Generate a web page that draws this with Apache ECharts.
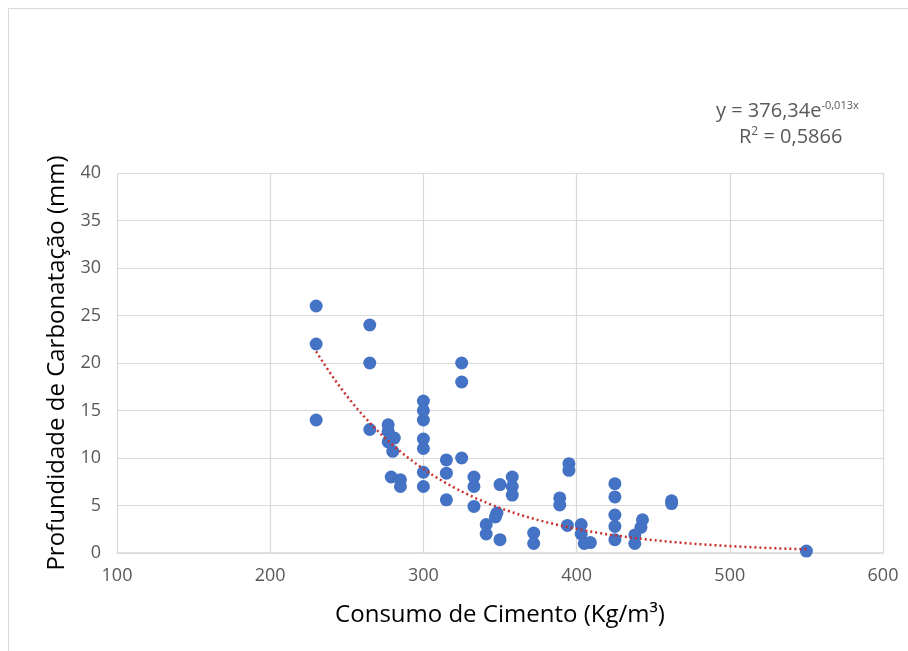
<!DOCTYPE html>
<html>
<head>
<meta charset="utf-8">
<script src="https://cdn.jsdelivr.net/npm/echarts@6/dist/echarts.min.js"></script>
<style>
html,body{margin:0;padding:0;background:#fff;}
#chart{width:908px;height:651px;}
</style>
</head>
<body>
<div id="chart"></div>
<script>
// Consumo de cimento (kg/m3) -- x values
const consumo = [
  230, 230, 230,
  265, 265, 265,
  277, 277, 281, 277, 280,
  279, 285, 285,
  300, 300, 300, 300, 300, 300, 300,
  325, 325, 325,
  315, 315, 315,
  333, 333, 333,
  350, 350, 348, 347, 341, 341,
  358, 358, 358,
  372, 372,
  395, 395, 394,
  389, 389,
  403, 403, 405, 409,
  425, 425, 425, 425, 425,
  443, 442, 438, 438,
  462, 462,
  550
];
// Profundidade de carbonatação (mm) -- y values
const profundidade = [
  26, 22, 14,
  24, 20, 13,
  13.5, 12.8, 12.1, 11.7, 10.7,
  8, 7.7, 7.0,
  16, 15, 14, 12, 11, 8.5, 7,
  20, 18, 10,
  9.8, 8.4, 5.6,
  8, 7, 4.9,
  7.2, 1.4, 4.2, 3.8, 3.0, 2.0,
  8, 7, 6.1,
  2.1, 1.0,
  9.4, 8.7, 2.9,
  5.8, 5.05,
  3, 2, 1, 1.1,
  7.3, 5.9, 4.0, 2.8, 1.4,
  3.5, 2.7, 1.9, 1.0,
  5.5, 5.2,
  0.2
];
const xTicks = [100, 200, 300, 400, 500, 600];
const yTicks = [0, 5, 10, 15, 20, 25, 30, 35, 40];
// Exponential trendline coefficients (y = A * e^(B x))
const TREND_A = 376.34;
const TREND_B = -0.0125;
const TREND_X0 = 230, TREND_X1 = 550, TREND_STEP = 4;

const points = consumo.map((x, i) => [x, profundidade[i]]);
const trend = [];
for (let x = TREND_X0; x <= TREND_X1; x += TREND_STEP) trend.push([x, TREND_A * Math.exp(TREND_B * x)]);

const FONT = '"Open Sans", "Noto Sans", sans-serif';
const chart = echarts.init(document.getElementById('chart'), null, {renderer: 'canvas'});
chart.setOption({
  animation: false,
  backgroundColor: '#ffffff',
  grid: {left: 117, right: 25, top: 173, bottom: 98, containLabel: false},
  xAxis: {
    type: 'value', min: xTicks[0], max: xTicks[xTicks.length - 1], interval: 100,
    name: 'Consumo de Cimento (Kg/m³)', nameLocation: 'middle', nameGap: 50,
    nameTextStyle: {fontFamily: FONT, fontSize: 24, color: '#000000'},
    axisLine: {show: true, lineStyle: {color: '#d9d9d9', width: 1.5}},
    axisTick: {show: false},
    axisLabel: {fontFamily: FONT, fontSize: 18, color: '#595959', margin: 14},
    splitLine: {show: true, lineStyle: {color: '#d9d9d9', width: 1.2}}
  },
  yAxis: {
    type: 'value', min: yTicks[0], max: yTicks[yTicks.length - 1], interval: 5,
    name: 'Profundidade de Carbonatação (mm)', nameLocation: 'middle', nameGap: 40,
    nameTextStyle: {fontFamily: FONT, fontSize: 24, color: '#000000'},
    axisLine: {show: false},
    axisTick: {show: false},
    axisLabel: {fontFamily: FONT, fontSize: 18, color: '#595959', margin: 16},
    splitLine: {show: true, lineStyle: {color: '#d9d9d9', width: 1.2}}
  },
  series: [
    {
      type: 'line', data: trend, showSymbol: false, symbol: 'none', smooth: false, z: 3,
      lineStyle: {color: '#c8302c', width: 2.5, type: [2, 3]}
    },
    {
      type: 'scatter', data: points, symbol: 'circle', symbolSize: 13, z: 2,
      itemStyle: {color: '#4472c4', opacity: 1}
    }
  ],
  graphic: [
    {type: 'rect', shape: {x: 8.5, y: 8.5, width: 920, height: 700}, style: {fill: null, stroke: '#d9d9d9', lineWidth: 1}, silent: true},
    {type: 'text', left: 716, top: 100, style: {
      text: '{a|y = 376,34e}{b|-0,013x}',
      rich: {a: {fontFamily: FONT, fontSize: 20, fill: '#595959'}, b: {fontFamily: FONT, fontSize: 11, fill: '#595959', verticalAlign: 'top', padding: [0, 0, 12, 0]}}
    }},
    {type: 'text', left: 739, top: 126, style: {
      text: '{a|R}{b|2}{a| = 0,5866}',
      rich: {a: {fontFamily: FONT, fontSize: 20, fill: '#595959'}, b: {fontFamily: FONT, fontSize: 12, fill: '#595959', padding: [0, 0, 10, 0]}}
    }}
  ]
});
</script>
</body>
</html>
